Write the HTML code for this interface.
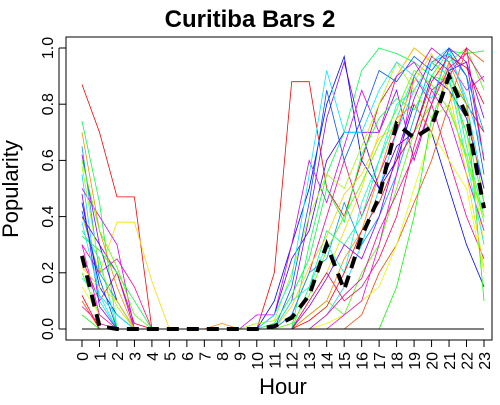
<!DOCTYPE html>
<html><head><meta charset="utf-8"><style>
body{margin:0;background:#fff}
svg text{font-family:"Liberation Sans",sans-serif}
</style></head><body>
<svg id="c" width="500" height="400">
<rect x="66" y="37" width="426" height="303" fill="none" stroke="#000"/>
<text x="250" y="27" text-anchor="middle" font-size="24" font-weight="bold">Curitiba Bars 2</text>
<text x="283" y="394" text-anchor="middle" font-size="22">Hour</text>
<text transform="translate(18,189) rotate(-90)" text-anchor="middle" font-size="22">Popularity</text>
<g id="lines"></g><g id="axes"></g>
</svg>
<script>
const hours=[0,1,2,3,4,5,6,7,8,9,10,11,12,13,14,15,16,17,18,19,20,21,22,23];
const yTicks=[0,0.2,0.4,0.6,0.8,1.0];
const yTickLabels=["0.0","0.2","0.4","0.6","0.8","1.0"];
const meanValues=[0.26,0.01,0,0,0,0,0,0,0,0,0,0.01,0.04,0.12,0.30,0.14,0.33,0.47,0.73,0.68,0.72,0.90,0.76,0.43];
const s01=[0.87,0.70,0.47,0.47,0,0,0,0,0,0,0,0.20,0.88,0.88,0.50,0.40,0.60,0.80,0.90,1.00,0.95,0.90,0.80,0.70];
const s02=[0.74,0.45,0,0,0,0,0,0,0,0,0,0,0,0.30,0.55,0.70,0.92,1.00,0.98,0.95,0.90,0.99,0.98,0.99];
const s03=[0.62,0.30,0.20,0,0,0,0,0,0,0,0,0,0.10,0.40,0.75,0.95,0.70,0.70,0.85,0.60,0.80,1.00,0.95,0.60];
const s04=[0.40,0.20,0.38,0.38,0.17,0,0,0,0,0,0,0,0,0.10,0.20,0.35,0.50,0.70,0.90,1.00,0.95,0.85,0.70,0.30];
const s05=[0.55,0.10,0,0,0,0,0,0,0,0,0,0,0,0,0.05,0.15,0.30,0.50,0.70,0.85,0.95,1.00,0.80,0.50];
const s06=[0.30,0.20,0.25,0.15,0,0,0,0,0,0,0,0,0.05,0.20,0.40,0.60,0.40,0.55,0.70,0.90,0.80,0.60,0.40,0.25];
const s07=[0.20,0.05,0,0,0,0,0,0,0,0,0,0,0,0.05,0.10,0.05,0.20,0.30,0.50,0.70,0.80,0.95,1.00,0.85];
const s08=[0.45,0.15,0.05,0,0,0,0,0,0,0,0,0.10,0.30,0.50,0.80,0.97,0.60,0.50,0.60,0.80,0.70,0.50,0.30,0.15];
const s09=[0.10,0,0,0,0,0,0,0,0,0,0,0,0,0,0,0,0.05,0.20,0.30,0.45,0.60,0.80,1.00,0.95];
const s10=[0.35,0.25,0,0,0,0,0,0,0,0,0,0,0,0.15,0.35,0.30,0.40,0.60,0.75,0.90,1.00,0.95,0.65,0.40];
const s11=[0.50,0.40,0.30,0,0,0,0,0,0,0,0.05,0.05,0.30,0.60,0.45,0.65,0.85,0.70,0.90,0.95,0.85,0.75,0.55,0.35];
const s12=[0.15,0.05,0,0,0,0,0,0,0,0,0,0,0,0,0.02,0.05,0.10,0.15,0.30,0.50,0.70,0.60,0.50,0.20];
const s13=[0.65,0.20,0.10,0,0,0,0,0,0,0,0,0,0.05,0.20,0.25,0.45,0.30,0.40,0.55,0.75,0.95,0.98,0.90,0.70];
const s14=[0.25,0.10,0.20,0.02,0,0,0,0,0,0,0,0,0,0.10,0.20,0.10,0.15,0.25,0.40,0.65,0.85,0.90,1.00,0.60];
const s15=[0.05,0,0,0,0,0,0,0,0,0,0,0,0,0,0,0,0,0,0.15,0.40,0.75,0.90,0.80,0.10];
const s16=[0.40,0.30,0.10,0,0,0,0,0,0,0,0,0.05,0.25,0.35,0.60,0.70,0.70,0.50,0.65,0.70,0.90,0.85,0.75,0.50];
const s17=[0.70,0.35,0.15,0,0,0,0,0,0.02,0,0,0,0,0.05,0.10,0.25,0.35,0.55,0.75,0.80,0.70,0.95,0.80,0.45];
const s18=[0.18,0.12,0,0,0,0,0,0,0,0,0,0,0.10,0.15,0.30,0.20,0.45,0.60,0.80,0.85,0.95,0.90,0.60,0.30];
const s19=[0.30,0.05,0,0,0,0,0,0,0,0,0,0,0,0,0,0.05,0.10,0.30,0.55,0.90,1.00,0.95,0.85,0.90];
const s20=[0.58,0.22,0.08,0,0,0,0,0,0,0,0.02,0.03,0.20,0.40,0.55,0.50,0.65,0.80,0.95,0.85,0.75,0.80,0.60,0.40];
const s21=[0.42,0.18,0,0,0,0,0,0,0,0,0,0,0.15,0.45,0.85,0.60,0.75,0.92,0.88,0.97,0.92,1.00,0.90,0.55];
const s22=[0.12,0,0,0,0,0,0,0,0,0,0,0,0,0.03,0.08,0.20,0.35,0.45,0.60,0.70,0.88,0.97,0.93,0.80];
const s23=[0.33,0.28,0.20,0.10,0,0,0,0,0,0,0,0.02,0.12,0.25,0.50,0.38,0.62,0.75,0.82,0.78,0.90,0.88,0.70,0.45];
const s24=[0.48,0.08,0,0,0,0,0,0,0,0,0,0,0,0.08,0.18,0.30,0.25,0.40,0.62,0.82,0.97,0.92,0.95,0.75];
const s25=[0.22,0.15,0.10,0,0,0,0,0,0,0,0,0,0.08,0.22,0.33,0.48,0.55,0.68,0.72,0.88,0.98,0.85,0.55,0.22];
const s26=[0.38,0.12,0.05,0,0,0,0,0,0,0,0,0.05,0.18,0.55,0.92,0.70,0.70,0.85,0.95,0.90,0.82,0.98,0.82,0.62];
const s27=[0.08,0.02,0,0,0,0,0,0,0,0,0,0,0,0,0.05,0.12,0.18,0.35,0.48,0.62,0.80,0.93,0.98,0.88];
const s28=[0.60,0.35,0.22,0.05,0,0,0,0,0,0,0,0,0.02,0.12,0.28,0.40,0.52,0.66,0.78,0.92,0.87,0.78,0.62,0.38];
const series=[s01,s02,s03,s04,s05,s06,s07,s08,s09,s10,s11,s12,s13,s14,s15,s16,s17,s18,s19,s20,s21,s22,s23,s24,s25,s26,s27,s28];
const NS="http://www.w3.org/2000/svg";
const xS=h=>82+h*(402/23), yS=v=>329-v*281;
const lg=document.getElementById('lines'), ax=document.getElementById('axes');
const pts=a=>a.map((v,i)=>xS(hours[i]).toFixed(1)+','+yS(v).toFixed(1)).join(' ');
series.forEach((s,i)=>{const p=document.createElementNS(NS,'polyline');
p.setAttribute('points',pts(s));p.setAttribute('fill','none');
p.setAttribute('stroke','hsl('+((i*137)%360)+',100%,50%)');p.setAttribute('stroke-width','0.8');


lg.appendChild(p);});
const base=document.createElementNS(NS,'line');
base.setAttribute('x1',xS(0));base.setAttribute('x2',xS(23));base.setAttribute('y1',yS(0));base.setAttribute('y2',yS(0));base.setAttribute('stroke','#000');


lg.appendChild(base);
const m=document.createElementNS(NS,'polyline');
m.setAttribute('points',pts(meanValues));m.setAttribute('fill','none');m.setAttribute('stroke','#000');
m.setAttribute('stroke-width','4');m.setAttribute('stroke-dasharray','12,8');


lg.appendChild(m);
hours.forEach(h=>{const t=document.createElementNS(NS,'line');
t.setAttribute('x1',xS(h));t.setAttribute('x2',xS(h));t.setAttribute('y1',340);t.setAttribute('y2',347);t.setAttribute('stroke','#000');


ax.appendChild(t);
const l=document.createElementNS(NS,'text');l.textContent=h;
l.setAttribute('transform','translate('+(xS(h)+6)+',352) rotate(-90)');l.setAttribute('text-anchor','end');l.setAttribute('font-size','16');


ax.appendChild(l);});
const al=document.createElementNS(NS,'line');al.setAttribute('x1',xS(0));al.setAttribute('x2',xS(23));al.setAttribute('y1',340);al.setAttribute('y2',340);al.setAttribute('stroke','#000');


ax.appendChild(al);
yTicks.forEach((v,i)=>{const t=document.createElementNS(NS,'line');
t.setAttribute('x1',59);t.setAttribute('x2',66);t.setAttribute('y1',yS(v));t.setAttribute('y2',yS(v));t.setAttribute('stroke','#000');


ax.appendChild(t);
const l=document.createElementNS(NS,'text');l.textContent=yTickLabels[i];
l.setAttribute('transform','translate(53,'+yS(v)+') rotate(-90)');l.setAttribute('text-anchor','middle');l.setAttribute('font-size','16');


ax.appendChild(l);});
const yl=document.createElementNS(NS,'line');yl.setAttribute('x1',59);yl.setAttribute('x2',59);yl.setAttribute('y1',yS(0));yl.setAttribute('y2',yS(1));
yl.setAttribute('stroke','#000');


ax.appendChild(yl);
</script>
</body></html>
